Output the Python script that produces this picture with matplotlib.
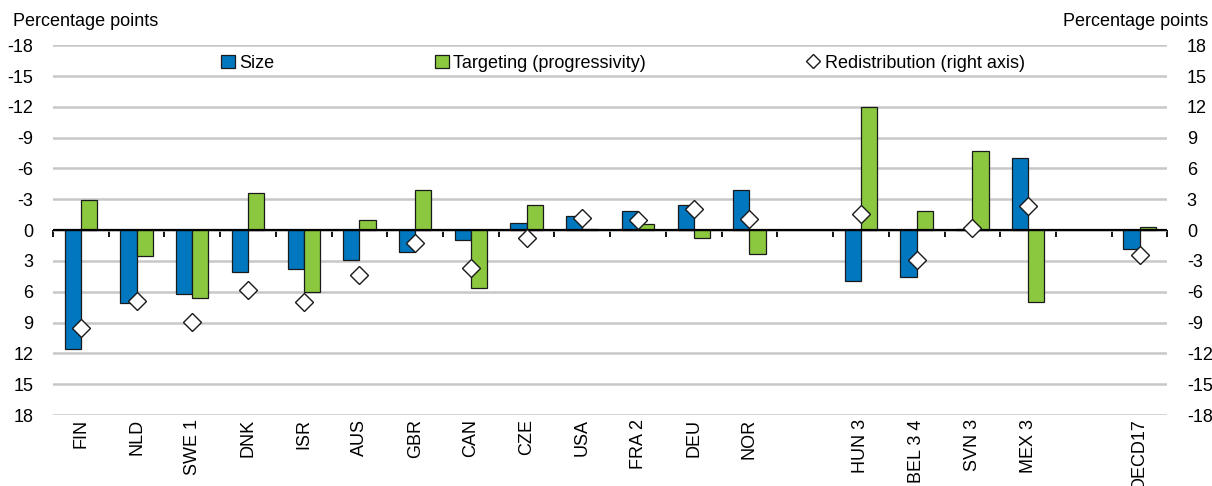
import numpy as np
import matplotlib
matplotlib.use('Agg')
import matplotlib.pyplot as plt
from matplotlib.patches import Patch
from matplotlib.lines import Line2D

plt.rcParams['font.family'] = ['Liberation Sans', 'DejaVu Sans']
plt.rcParams['axes.unicode_minus'] = False

# '' marks an empty slot between country groups
categories = ['FIN', 'NLD', 'SWE 1', 'DNK', 'ISR', 'AUS', 'GBR', 'CAN', 'CZE',
              'USA', 'FRA 2', 'DEU', 'NOR', '', 'HUN 3', 'BEL 3 4', 'SVN 3',
              'MEX 3', '', 'OECD17']
# left axis (inverted)
size = [11.6, 7.1, 6.25, 4.05, 3.8, 2.9, 2.15, 1.0, -0.7, -1.35, -1.9, -2.45,
        -3.9, np.nan, 4.95, 4.6, -0.1, -7.05, np.nan, 1.85]
targeting = [-2.9, 2.5, 6.6, -3.65, 6.05, -1.0, -3.9, 5.65, -2.45, -0.1, -0.6,
             0.8, 2.35, np.nan, -11.95, -1.85, -7.75, 6.95, np.nan, -0.3]
# right axis
redistribution = [-9.55, -6.9, -8.95, -5.8, -7.0, -4.35, -1.3, -3.7, -0.8, 1.15,
                  0.95, 2.1, 1.05, np.nan, 1.55, -2.9, 0.25, 2.35, np.nan, -2.45]

BLUE = '#0077be'
GREEN = '#8cc83f'
EDGE = '#1a1a1a'
FS = 13

fig = plt.figure(figsize=(12.12, 4.86), dpi=100)
ax = fig.add_axes([0.0437, 0.146, 0.9195, 0.761])
x = np.arange(len(categories))
w = 0.29

ax.bar(x - w / 2, size, w, color=BLUE, edgecolor=EDGE, linewidth=0.9, zorder=2)
ax.bar(x + w / 2, targeting, w, color=GREEN, edgecolor=EDGE, linewidth=0.9, zorder=2)
ax.axhline(0, color='black', linewidth=1.6, zorder=2.5)

ax.set_xlim(-0.5, len(categories) - 0.5)
ax.set_ylim(18, -18)
ax.set_yticks(np.arange(-18, 19, 3))
ax.yaxis.grid(True, color='#c8c8c8', linewidth=1.8)
ax.set_axisbelow(True)
for s in ax.spines.values():
    s.set_visible(False)
ax.tick_params(axis='y', length=0, pad=14, labelsize=FS)
ax.set_xticks(x)
ax.set_xticklabels(categories, rotation=90, fontsize=FS, va='top')
ax.tick_params(axis='x', length=0, pad=3)

# separator ticks hanging off the zero line
zero = ax.secondary_xaxis(0.5)
zero.set_xticks(np.arange(-0.5, len(categories), 1.0))
zero.tick_params(axis='x', direction='out', length=5, width=1.3, color='black',
                 labelbottom=False, labeltop=False, bottom=True, top=False)
for s in zero.spines.values():
    s.set_visible(False)

ax2 = ax.twinx()
ax2.set_ylim(-18, 18)
ax2.set_yticks(np.arange(-18, 19, 3))
ax2.tick_params(axis='y', length=0, pad=14, labelsize=FS)
for s in ax2.spines.values():
    s.set_visible(False)
ax2.plot(x, redistribution, linestyle='none', marker='D', markersize=9,
         markerfacecolor='white', markeredgecolor=EDGE, markeredgewidth=1.0,
         zorder=3)

fig.text(0.0105, 0.955, 'Percentage points', fontsize=FS, ha='left', va='center')
fig.text(0.997, 0.955, 'Percentage points', fontsize=FS, ha='right', va='center')

handles = [
    Patch(facecolor=BLUE, edgecolor=EDGE, linewidth=0.9),
    Patch(facecolor=GREEN, edgecolor=EDGE, linewidth=0.9),
    Line2D([], [], linestyle='none', marker='D', markersize=7,
           markerfacecolor='white', markeredgecolor=EDGE, markeredgewidth=1.0),
]
ax2.legend(handles, ['Size', 'Targeting (progressivity)', 'Redistribution (right axis)'],
           ncol=3, loc='center left', bbox_to_anchor=(0.151, 0.951), frameon=False,
           fontsize=FS, handlelength=0.75, handleheight=0.75, handletextpad=0.25,
           columnspacing=8.9, borderpad=0, borderaxespad=0)

fig.savefig('out.png', dpi=100)
